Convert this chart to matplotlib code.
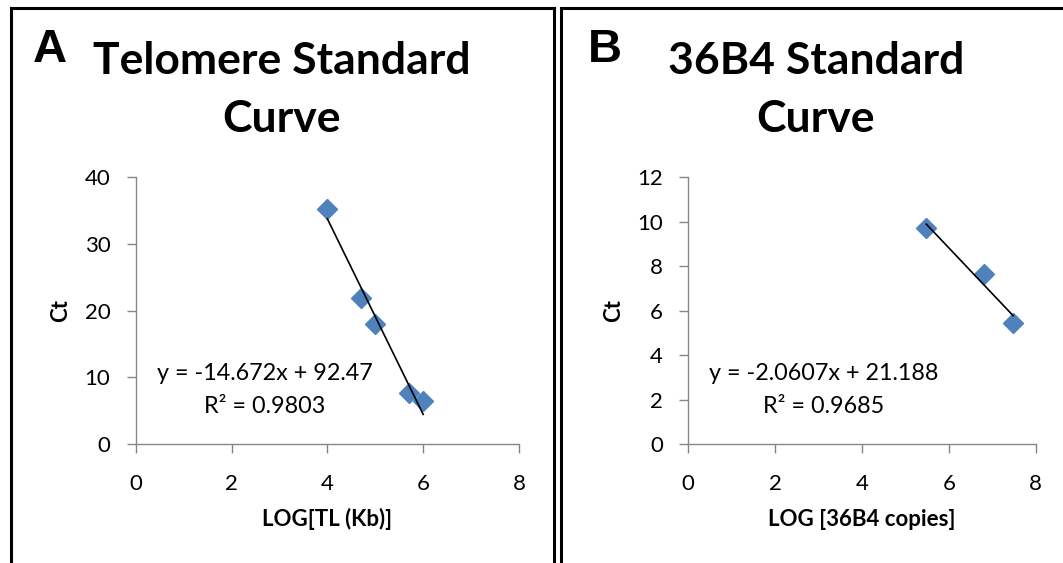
import matplotlib
matplotlib.use("Agg")
import matplotlib.pyplot as plt
from matplotlib.lines import Line2D
import numpy as np

plt.rcParams['font.family'] = ['Lato', 'DejaVu Sans']

# ---- data ----
tel_x = [4.0, 4.7, 5.0, 5.7, 6.0]
tel_ct = [35.3, 21.9, 18.0, 7.6, 6.4]
tel_slope, tel_intercept, tel_r2 = -14.672, 92.47, 0.9803

b_x = [5.48, 6.8, 7.48]
b_ct = [9.7, 7.64, 5.46]
b_slope, b_intercept, b_r2 = -2.0607, 21.188, 0.9685

x_ticks = [0, 2, 4, 6, 8]
tel_yticks = [0, 10, 20, 30, 40]
b_yticks = [0, 2, 4, 6, 8, 10, 12]

W, H = 1063, 563
fig = plt.figure(figsize=(W / 100, H / 100), dpi=100)

def fx(px):
    return px / W

def fy(py):
    return 1 - py / H

GRAY = '#868686'
BLUE = '#4F81BD'

def make_axes(left_px, right_px, xs, ys, slope, intercept, r2, yticks, ymax,
              xlabel, eq_x_px):
    ax = fig.add_axes([fx(left_px), fy(444), fx(right_px) - fx(left_px), fy(177.3) - fy(444)])
    ax.set_xlim(0, 8)
    ax.set_ylim(0, ymax)
    ax.set_xticks(x_ticks)
    ax.set_yticks(yticks)
    for s in ['top', 'right']:
        ax.spines[s].set_visible(False)
    for s in ['left', 'bottom']:
        ax.spines[s].set_color(GRAY)
        ax.spines[s].set_linewidth(1.0)
    ax.tick_params(axis='both', direction='out', length=6.3, width=1.0,
                   color=GRAY, labelsize=16, labelcolor='black')
    ax.tick_params(axis='x', pad=15.0)
    ax.tick_params(axis='y', pad=12.0)
    ax.plot(xs, ys, linestyle='none', marker='D', markersize=9.7,
            color=BLUE, markeredgecolor=BLUE, zorder=3, clip_on=False)
    xl = np.array([min(xs), max(xs)])
    ax.plot(xl, slope * xl + intercept, color='black', linewidth=1.2, zorder=4)
    ax.set_xlabel(xlabel, fontsize=16, fontweight='bold')
    ax.xaxis.label.set_verticalalignment('baseline')
    width_px = right_px - left_px
    ax.xaxis.set_label_coords(0.5, (444 - 526) / 266.7)
    ax.set_ylabel('Ct', fontsize=16, fontweight='bold')
    ax.yaxis.label.set_verticalalignment('center')
    ax.yaxis.set_label_coords(-75 / width_px, 0.5)
    sign = '-' if slope < 0 else ''
    eq = f"y = {sign}{abs(slope)}x + {intercept}"
    exf = (eq_x_px - left_px) / width_px
    ax.text(exf, (444 - 379.5) / 266.7, eq, transform=ax.transAxes,
            ha='center', va='baseline', fontsize=16.8)
    ax.text(exf, (444 - 412.7) / 266.7, f"R\u00b2 = {r2}", transform=ax.transAxes,
            ha='center', va='baseline', fontsize=16.8)
    return ax

make_axes(135.7, 519.0, tel_x, tel_ct, tel_slope, tel_intercept, tel_r2,
          tel_yticks, 40, 'LOG[TL (Kb)]', 265)
make_axes(688.3, 1035.7, b_x, b_ct, b_slope, b_intercept, b_r2,
          b_yticks, 12, 'LOG [36B4 copies]', 824)

# titles
for cx, l1 in [(282, 'Telomere Standard'), (816, '36B4 Standard')]:
    fig.text(fx(cx), fy(73.5), l1, ha='center', va='baseline', fontsize=32,
             fontweight='bold')
    fig.text(fx(cx), fy(131.7), 'Curve', ha='center', va='baseline', fontsize=32,
             fontweight='bold')

# panel letters
for lx, letter in [(33, 'A'), (588, 'B')]:
    fig.text(fx(lx), fy(62), letter, ha='left', va='baseline', fontsize=34,
             fontweight='bold', family='Liberation Sans')

# frames
lw = 2.2
def fline(x0, y0, x1, y1):
    fig.add_artist(Line2D([fx(x0), fx(x1)], [fy(y0), fy(y1)], color='black',
                          linewidth=lw, solid_capstyle='projecting',
                          transform=fig.transFigure))

fline(11.3, 8.3, 11.3, 570)
fline(11.3, 8.3, 554, 8.3)
fline(554, 8.3, 554, 570)
fline(560.5, 8.3, 560.5, 570)
fline(560.5, 8.3, 1070, 8.3)

fig.savefig('out.png', dpi=100)
